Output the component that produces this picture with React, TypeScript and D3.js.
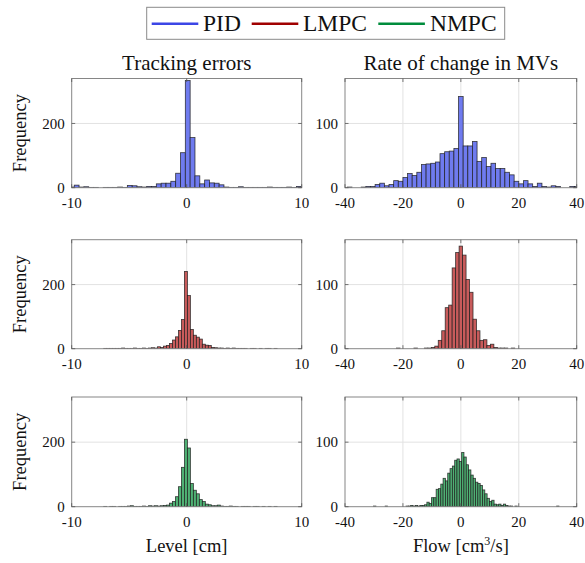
import React from 'react';
import * as d3 from 'd3';

// ---------- DATA ----------
const seriesNames = ['PID', 'LMPC', 'NMPC'];
const columnTitles = ['Tracking errors', 'Rate of change in MVs'];
const levelTicks = [-10, 0, 10];
const flowTicks = [-40, -20, 0, 20, 40];
const levelYTicks = [0, 200];
const flowYTicks = [0, 100];

// Tracking errors (Level [cm]) histograms
const pidLevelStart = -10.2;
const pidLevelBin = 0.42;
const pidLevel = [2, 8, 2, 3, 1, 1, 0, 1, 1, 1, 2, 1, 7, 6, 3, 2, 4, 4, 12, 14, 14, 20, 45, 109, 334, 156, 37, 12, 24, 15, 14, 9, 2, 1, 1, 3, 1, 1, 1, 1, 1, 2, 1, 1, 1, 2, 1, 4, 1];

const lmpcLevelStart = -7.22;
const lmpcLevelBin = 0.26;
const lmpcLevel = [1, 1, 1, 1, 1, 1, 2, 1, 1, 1, 2, 1, 1, 2, 1, 2, 3, 2, 6, 4, 8, 10, 16, 27, 37, 57, 91,
  241, 166, 60, 42, 36, 30, 14, 11, 10, 4, 3, 2, 2, 1, 2, 1, 2, 1, 1, 1, 1, 0, 1, 1, 0, 1, 0, 1, 1, 0, 1];

const nmpcLevelStart = -7.22;
const nmpcLevelBin = 0.26;
const nmpcLevel = [1, 0, 1, 1, 0, 1, 1, 1, 2, 3, 1, 1, 1, 2, 1, 3, 2, 3, 2, 3, 4, 5, 11, 16, 31, 62, 122,
  209, 182, 72, 51, 40, 22, 16, 8, 6, 3, 3, 5, 2, 1, 1, 2, 1, 1, 0, 1, 1, 1, 0, 1, 1, 0, 1, 0, 1, 0, 1];

// Rate of change in MVs (Flow [cm^3/s]) histograms
const pidFlowStart = -40.8;
const pidFlowBin = 1.6;
const pidFlow = [0, 1, 0, 0, 1, 2, 2, 5, 7, 3, 5, 11, 10, 16, 22, 19, 24, 36, 37, 38, 40, 53, 56, 57, 61, 142,
  65, 65, 72, 41, 47, 33, 38, 30, 30, 24, 20, 10, 6, 11, 6, 2, 7, 2, 1, 3, 2, 0, 0, 2, 2];

const lmpcFlowStart = -22.2;
const lmpcFlowBin = 1.2;
const lmpcFlow = [1, 0, 0, 0, 0, 1, 0, 0, 1, 1, 2, 4, 13, 28, 64, 68, 126, 150,
  160, 146, 108, 88, 46, 28, 13, 14, 5, 7, 2, 1, 1, 1, 0, 1, 0];

const nmpcFlowStart = -30.13;
const nmpcFlowBin = 0.8;
const nmpcFlow = [1, 0, 0, 0, 0, 1, 0, 0, 0, 0, 0, 0, 0, 0, 1, 1, 2, 1, 2, 1, 2, 2, 3, 7, 5, 14, 14, 27, 28, 35, 44, 40, 52, 59, 63, 72, 74, 70,
  84, 77, 65, 57, 49, 44, 38, 36, 33, 26, 20, 13, 8, 10, 4, 3, 4, 2, 4, 2, 1, 1, 0, 1,
  0, 0, 0, 0, 0, 0, 0, 0, 0, 0, 0, 0, 0, 0, 0, 0, 0, 1];

// ---------- STYLE ----------
const FONT = '"Liberation Serif", "Times New Roman", serif';
const fills = ['#6f7bef', '#c85b5b', '#4fb174'];
const lineColors = ['#3c46e6', '#a00000', '#008c3c'];

const colX = [71.7, 345];
const colW = [230, 231.7];
const rowY = [78.5, 239.7, 397];
const rowH = [109.2, 109, 109.7];

type PanelProps = {
  px: number; py: number; pw: number; ph: number;
  xDomain: [number, number]; yMax: number;
  xTicks: number[]; yTicks: number[];
  counts: number[]; start: number; bin: number;
  fill: string; id: string;
};

function Panel(p: PanelProps) {
  const x = d3.scaleLinear().domain(p.xDomain).range([p.px, p.px + p.pw]);
  const y = d3.scaleLinear().domain([0, p.yMax]).range([p.py + p.ph, p.py]);
  const tl = 3.5;
  const bottom = p.py + p.ph;
  return (
    <g>
      <defs>
        <clipPath id={p.id}>
          <rect x={p.px} y={p.py} width={p.pw} height={p.ph} />
        </clipPath>
      </defs>
      <rect x={p.px} y={p.py} width={p.pw} height={p.ph} fill="#fff" />
      {p.xTicks.slice(1, -1).map((t) => (
        <line key={'gx' + t} x1={x(t)} x2={x(t)} y1={p.py} y2={bottom} stroke="#e2e2e2" strokeWidth={1} />
      ))}
      {p.yTicks.slice(1).map((t) => (
        <line key={'gy' + t} x1={p.px} x2={p.px + p.pw} y1={y(t)} y2={y(t)} stroke="#e2e2e2" strokeWidth={1} />
      ))}
      <g clipPath={`url(#${p.id})`}>
        {p.counts.map((c, i) => {
          if (c <= 0) return null;
          const a = p.start + i * p.bin;
          const b = a + p.bin;
          return (
            <rect key={i} x={x(a)} y={y(c)} width={x(b) - x(a)} height={y(0) - y(c)}
              fill={p.fill} stroke="#1c1c1c" strokeOpacity={0.85} strokeWidth={0.8} />
          );
        })}
      </g>
      <rect x={p.px} y={p.py} width={p.pw} height={p.ph} fill="none" stroke="#868686" strokeWidth={1} />
      {p.xTicks.map((t) => (
        <g key={'tx' + t}>
          <line x1={x(t)} x2={x(t)} y1={bottom} y2={bottom - tl} stroke="#555" strokeWidth={0.8} />
          <line x1={x(t)} x2={x(t)} y1={p.py} y2={p.py + tl} stroke="#555" strokeWidth={0.8} />
          <text x={x(t)} y={bottom + 20.5} textAnchor="middle" fontSize={15} fontFamily={FONT} fill="#111">{String(t)}</text>
        </g>
      ))}
      {p.yTicks.map((t) => (
        <g key={'ty' + t}>
          <line x1={p.px} x2={p.px + tl} y1={y(t)} y2={y(t)} stroke="#555" strokeWidth={0.8} />
          <line x1={p.px + p.pw} x2={p.px + p.pw - tl} y1={y(t)} y2={y(t)} stroke="#555" strokeWidth={0.8} />
          <text x={p.px - 7} y={y(t)} dy="0.35em" textAnchor="end" fontSize={15} fontFamily={FONT} fill="#111">{String(t)}</text>
        </g>
      ))}
    </g>
  );
}

export default function App() {
  const levelData = [
    { counts: pidLevel, start: pidLevelStart, bin: pidLevelBin },
    { counts: lmpcLevel, start: lmpcLevelStart, bin: lmpcLevelBin },
    { counts: nmpcLevel, start: nmpcLevelStart, bin: nmpcLevelBin },
  ];
  const flowData = [
    { counts: pidFlow, start: pidFlowStart, bin: pidFlowBin },
    { counts: lmpcFlow, start: lmpcFlowStart, bin: lmpcFlowBin },
    { counts: nmpcFlow, start: nmpcFlowStart, bin: nmpcFlowBin },
  ];

  const legendX = [151.7, 251.7, 378.3];
  const legendTextX = [203, 303, 430];

  return (
    <svg width={585} height={563} style={{ position: 'absolute', left: 0, top: 0, background: '#fff' }}>
      <rect x={0} y={0} width={585} height={563} fill="#fff" />
      {/* Legend */}
      <rect x={146.7} y={7.3} width={358} height={32} fill="#fff" stroke="#8a8a8a" strokeWidth={1} />
      {seriesNames.map((s, i) => (
        <g key={s}>
          <line x1={legendX[i]} x2={legendX[i] + 46.6} y1={23.7} y2={23.7} stroke={lineColors[i]} strokeWidth={2.6} />
          <text x={legendTextX[i]} y={31} fontSize={23.5} fontFamily={FONT} fill="#111">{s}</text>
        </g>
      ))}
      {/* Column titles */}
      {columnTitles.map((t, c) => (
        <text key={t} x={colX[c] + colW[c] / 2} y={70} textAnchor="middle" fontSize={21} fontFamily={FONT} fill="#111">{t}</text>
      ))}
      {/* Panels */}
      {[0, 1, 2].map((r) => (
        <g key={'row' + r}>
          <Panel id={`cl${r}`} px={colX[0]} py={rowY[r]} pw={colW[0]} ph={rowH[r]}
            xDomain={[-10, 10]} yMax={340} xTicks={levelTicks} yTicks={levelYTicks}
            counts={levelData[r].counts} start={levelData[r].start} bin={levelData[r].bin} fill={fills[r]} />
          <Panel id={`cr${r}`} px={colX[1]} py={rowY[r]} pw={colW[1]} ph={rowH[r]}
            xDomain={[-40, 40]} yMax={170} xTicks={flowTicks} yTicks={flowYTicks}
            counts={flowData[r].counts} start={flowData[r].start} bin={flowData[r].bin} fill={fills[r]} />
          <text transform={`translate(25.5, ${rowY[r] + rowH[r] / 2}) rotate(-90)`} textAnchor="middle"
            fontSize={18.5} fontFamily={FONT} fill="#111">Frequency</text>
        </g>
      ))}
      {/* X labels */}
      <text x={colX[0] + colW[0] / 2} y={552} textAnchor="middle" fontSize={18.5} fontFamily={FONT} fill="#111">Level [cm]</text>
      <text x={colX[1] + colW[1] / 2} y={552} textAnchor="middle" fontSize={18.5} fontFamily={FONT} fill="#111">
        Flow [cm<tspan fontSize={12} dy={-7}>3</tspan><tspan dy={7}>/s]</tspan>
      </text>
    </svg>
  );
}
